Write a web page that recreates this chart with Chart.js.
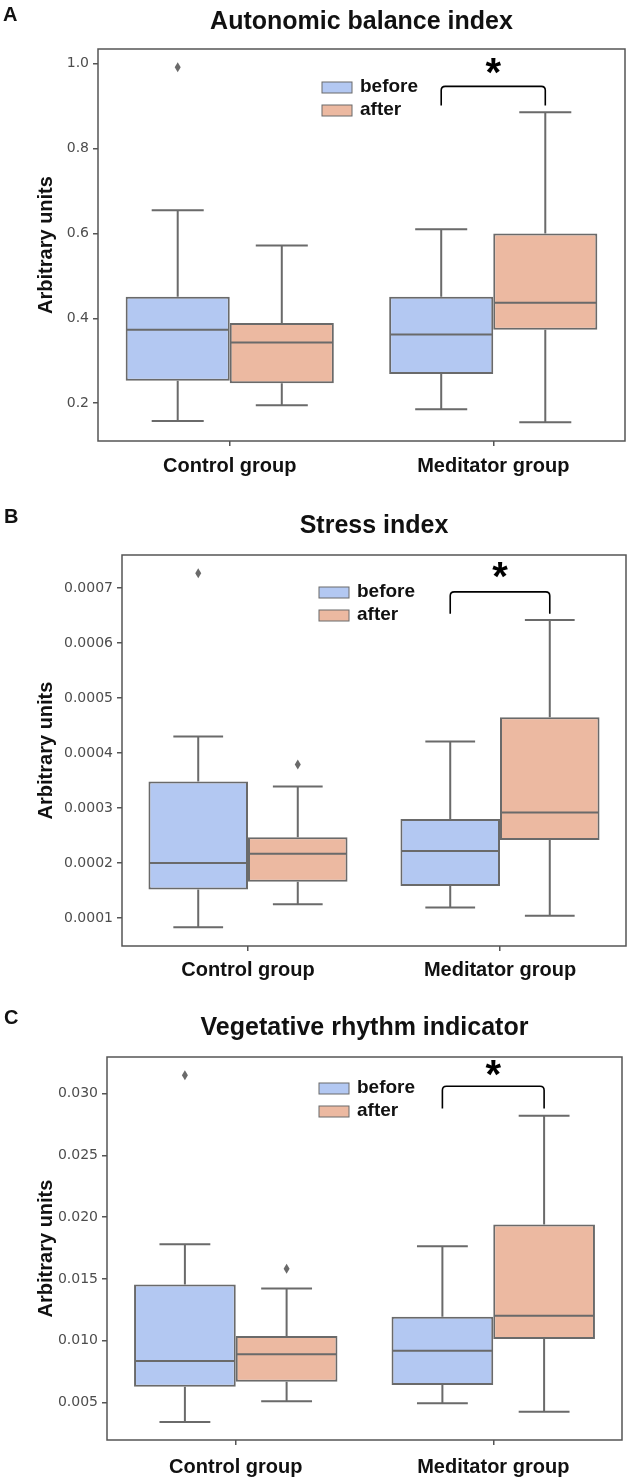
<!DOCTYPE html>
<html>
<head>
<meta charset="utf-8">
<script src="https://cdn.jsdelivr.net/npm/chart.js@4.4.1/dist/chart.umd.min.js"></script>
<style>
    html, body { margin: 0; padding: 0; background: #fff; }
    .panel { position: relative; width: 629px; }
</style>
</head>
<body>
<div class="panel" style="height:490px"><canvas id="chartA"></canvas></div>
<div class="panel" style="height:495px"><canvas id="chartB"></canvas></div>
<div class="panel" style="height:494px"><canvas id="chartC"></canvas></div>
<script>
// categories and series
const groups = ['Control group', 'Meditator group'];
const seriesNames = ['before', 'after'];

// each box: [lower whisker, Q1, median, Q3, upper whisker], one per group
// A - Autonomic balance index
const abiBefore = [[0.158, 0.253, 0.373, 0.451, 0.655], [0.186, 0.269, 0.362, 0.451, 0.610]];
const abiAfter = [[0.195, 0.247, 0.343, 0.389, 0.572], [0.155, 0.373, 0.437, 0.600, 0.886]];
const abiBeforeOutliers = [[0.992], []];
const abiAfterOutliers = [[], []];
const abiRange = [0.111, 1.035];
const abiTicks = [0.2, 0.4, 0.6, 0.8, 1.0];
const abiTickLabels = ['0.2', '0.4', '0.6', '0.8', '1.0'];
const abiSig = [0.902, 0.947, 0.969]; // bracket foot, bracket bar, star

// B - Stress index
const siBefore = [[0.000083, 0.000152, 0.000200, 0.000348, 0.000430], [0.000119, 0.000158, 0.000222, 0.000280, 0.000421]];
const siAfter = [[0.000125, 0.000166, 0.000217, 0.000247, 0.000339], [0.000104, 0.000242, 0.000292, 0.000465, 0.000642]];
const siBeforeOutliers = [[0.000727], []];
const siAfterOutliers = [[0.000379], []];
const siRange = [0.0000491, 0.00076];
const siTicks = [0.0001, 0.0002, 0.0003, 0.0004, 0.0005, 0.0006, 0.0007];
const siTickLabels = ['0.0001', '0.0002', '0.0003', '0.0004', '0.0005', '0.0006', '0.0007'];
const siSig = [0.000653, 0.000693, 0.000713];

// C - Vegetative rhythm indicator
const vriBefore = [[0.00344, 0.00629, 0.00837, 0.01456, 0.01782], [0.00495, 0.00643, 0.00920, 0.01195, 0.01766]];
const vriAfter = [[0.00511, 0.00670, 0.00891, 0.01039, 0.01424], [0.00427, 0.01015, 0.01203, 0.01941, 0.02820]];
const vriBeforeOutliers = [[0.03148], []];
const vriAfterOutliers = [[0.01583], []];
const vriRange = [0.00198, 0.03296];
const vriTicks = [0.005, 0.010, 0.015, 0.020, 0.025, 0.030];
const vriTickLabels = ['0.005', '0.010', '0.015', '0.020', '0.025', '0.030'];
const vriSig = [0.02879, 0.03059, 0.03119];

const BLUE = '#b3c8f2';
const ORANGE = '#ecb9a1';
const LINE_GRAY = '#6a6a6a';
const AXIS_GRAY = '#555555';
const TEXT = '#111111';
const SANS = "'Liberation Sans', Arial, sans-serif";

function drawCenteredGlyph(ctx, text, x, y) {
    const m = ctx.measureText(text);
    ctx.textBaseline = 'alphabetic';
    ctx.fillText(text, x, y + (m.actualBoundingBoxAscent - m.actualBoundingBoxDescent) / 2);
}

const boxParts = {
    id: 'boxParts',
    afterDatasetsDraw(chart) {
        const ctx = chart.ctx;
        const yScale = chart.scales.y;
        const py = v => yScale.getPixelForValue(v);
        ctx.save();
        ctx.strokeStyle = LINE_GRAY;
        ctx.fillStyle = LINE_GRAY;
        ctx.lineWidth = 2;
        chart.data.datasets.forEach((ds, di) => {
            chart.getDatasetMeta(di).data.forEach((bar, i) => {
                const [low, q1, med, q3, high] = ds.stats[i];
                const half = bar.width / 2;
                const cap = half / 2;
                ctx.beginPath();
                ctx.moveTo(bar.x - half + 1, py(med));
                ctx.lineTo(bar.x + half - 1, py(med));
                ctx.moveTo(bar.x, py(q3));
                ctx.lineTo(bar.x, py(high));
                ctx.moveTo(bar.x - cap, py(high));
                ctx.lineTo(bar.x + cap, py(high));
                ctx.moveTo(bar.x, py(q1));
                ctx.lineTo(bar.x, py(low));
                ctx.moveTo(bar.x - cap, py(low));
                ctx.lineTo(bar.x + cap, py(low));
                ctx.stroke();
                ds.outliers[i].forEach(v => {
                    const y = py(v);
                    ctx.beginPath();
                    ctx.moveTo(bar.x, y - 5);
                    ctx.lineTo(bar.x + 3, y);
                    ctx.lineTo(bar.x, y + 5);
                    ctx.lineTo(bar.x - 3, y);
                    ctx.closePath();
                    ctx.fill();
                });
            });
        });
        ctx.restore();
    },
    afterDraw(chart, args, opts) {
        const ctx = chart.ctx;
        const area = chart.chartArea;
        const py = v => chart.scales.y.getPixelForValue(v);
        ctx.save();

        // frame round the axes
        ctx.strokeStyle = AXIS_GRAY;
        ctx.lineWidth = 1.5;
        ctx.strokeRect(area.left, area.top, area.right - area.left, area.bottom - area.top);

        // legend
        chart.data.datasets.forEach((ds, i) => {
            const x0 = area.right - opts.legend.dx;
            const y0 = area.top + opts.legend.dy + i * 23;
            ctx.fillStyle = ds.backgroundColor;
            ctx.fillRect(x0, y0, 30, 11);
            ctx.strokeStyle = LINE_GRAY;
            ctx.lineWidth = 1;
            ctx.strokeRect(x0, y0, 30, 11);
            ctx.fillStyle = TEXT;
            ctx.font = `bold 19px ${SANS}`;
            ctx.textAlign = 'left';
            ctx.textBaseline = 'middle';
            ctx.fillText(ds.label, x0 + 38, y0 + 5);
        });

        // significance bracket over the meditator boxes
        const x1 = chart.getDatasetMeta(0).data[1].x;
        const x2 = chart.getDatasetMeta(1).data[1].x;
        const [foot, barY, starY] = opts.sig.map(py);
        const r = 4;
        ctx.strokeStyle = '#000';
        ctx.lineWidth = 1.6;
        ctx.beginPath();
        ctx.moveTo(x1, foot);
        ctx.lineTo(x1, barY + r);
        ctx.quadraticCurveTo(x1, barY, x1 + r, barY);
        ctx.lineTo(x2 - r, barY);
        ctx.quadraticCurveTo(x2, barY, x2, barY + r);
        ctx.lineTo(x2, foot);
        ctx.stroke();
        ctx.fillStyle = '#000';
        ctx.font = `bold 40px ${SANS}`;
        ctx.textAlign = 'center';
        drawCenteredGlyph(ctx, '*', (x1 + x2) / 2, starY);

        // panel letter
        ctx.fillStyle = TEXT;
        ctx.font = `bold 20px ${SANS}`;
        ctx.textAlign = 'left';
        drawCenteredGlyph(ctx, opts.letter, opts.letterPos[0], opts.letterPos[1]);
        ctx.restore();
    }
};

function makePanel(canvasId, p) {
    const datasets = [
        { label: seriesNames[0], stats: p.before, outliers: p.beforeOutliers, backgroundColor: BLUE },
        { label: seriesNames[1], stats: p.after, outliers: p.afterOutliers, backgroundColor: ORANGE }
    ].map(ds => Object.assign(ds, {
        data: ds.stats.map(s => [s[1], s[3]]),
        borderColor: LINE_GRAY,
        borderWidth: 2,
        borderSkipped: false,
        categoryPercentage: 0.79,
        barPercentage: 1.0
    }));

    return new Chart(document.getElementById(canvasId), {
        type: 'bar',
        data: { labels: groups, datasets: datasets },
        plugins: [boxParts],
        options: {
            responsive: true,
            maintainAspectRatio: false,
            animation: false,
            events: [],
            layout: { padding: { left: 0, right: p.padRight, top: 0, bottom: 0 } },
            plugins: {
                legend: { display: false },
                tooltip: { enabled: false },
                title: {
                    display: true,
                    text: p.title,
                    fullSize: false,
                    color: TEXT,
                    font: { family: SANS, size: 25, weight: 'bold' },
                    padding: { top: p.titleTop, bottom: p.titleBottom }
                },
                boxParts: { legend: p.legend, sig: p.sig, letter: p.letter, letterPos: p.letterPos }
            },
            scales: {
                x: {
                    offset: true,
                    afterFit: scale => { scale.height = p.xHeight; },
                    grid: { offset: false, drawOnChartArea: false, tickLength: 5, color: AXIS_GRAY, lineWidth: 1.5 },
                    border: { display: false },
                    ticks: { color: TEXT, padding: p.xPad, font: { family: SANS, size: 20, weight: 'bold' } }
                },
                y: {
                    min: p.range[0],
                    max: p.range[1],
                    afterFit: scale => { scale.width = p.yWidth; },
                    afterBuildTicks: scale => { scale.ticks = p.ticks.map(v => ({ value: v })); },
                    grid: { drawOnChartArea: false, tickLength: 5, color: AXIS_GRAY, lineWidth: 1.5 },
                    border: { display: false },
                    ticks: {
                        color: '#4d4d4d',
                        padding: 4,
                        font: { family: "'DejaVu Sans', sans-serif", size: 14 },
                        callback: (value, index) => p.tickLabels[index]
                    },
                    title: {
                        display: true,
                        text: 'Arbitrary units',
                        color: TEXT,
                        padding: { top: 34, bottom: 0 },
                        font: { family: SANS, size: 20, weight: 'bold' }
                    }
                }
            }
        }
    });
}

makePanel('chartA', {
    title: 'Autonomic balance index', letter: 'A', letterPos: [3, 14],
    before: abiBefore, after: abiAfter, beforeOutliers: abiBeforeOutliers, afterOutliers: abiAfterOutliers,
    range: abiRange, ticks: abiTicks, tickLabels: abiTickLabels, sig: abiSig,
    titleTop: 7, titleBottom: 12, yWidth: 98, xHeight: 49, padRight: 4, xPad: 8,
    legend: { dx: 303, dy: 33 }
});

makePanel('chartB', {
    title: 'Stress index', letter: 'B', letterPos: [4, 25.5],
    before: siBefore, after: siAfter, beforeOutliers: siBeforeOutliers, afterOutliers: siAfterOutliers,
    range: siRange, ticks: siTicks, tickLabels: siTickLabels, sig: siSig,
    titleTop: 21, titleBottom: 14, yWidth: 122, xHeight: 39, padRight: 3, xPad: 7,
    legend: { dx: 307, dy: 32 }
});

makePanel('chartC', {
    title: 'Vegetative rhythm indicator', letter: 'C', letterPos: [4, 32],
    before: vriBefore, after: vriAfter, beforeOutliers: vriBeforeOutliers, afterOutliers: vriAfterOutliers,
    range: vriRange, ticks: vriTicks, tickLabels: vriTickLabels, sig: vriSig,
    titleTop: 28.5, titleBottom: 13.5, yWidth: 107, xHeight: 39, padRight: 7, xPad: 10,
    legend: { dx: 303, dy: 26 }
});
</script>
</body>
</html>
